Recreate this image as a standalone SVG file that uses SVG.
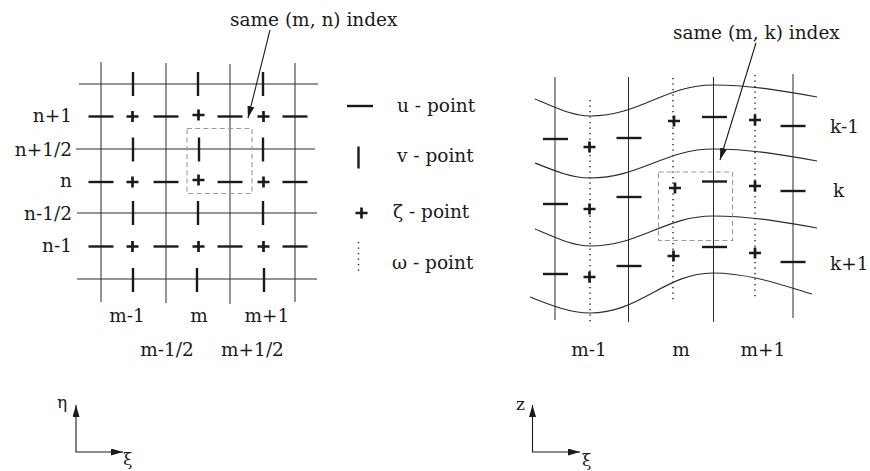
<svg xmlns="http://www.w3.org/2000/svg" width="870" height="471" viewBox="0 0 870 471">
<style>
.bg{fill:#fff}
.ln{stroke:#2a2a2a;stroke-width:1;fill:none}
.wv{stroke:#2a2a2a;stroke-width:1.1;fill:none}
.mk{stroke:#1a1a1a;stroke-width:2.4;fill:none}
.pl{stroke:#1a1a1a;stroke-width:2.7;fill:none}
.dot{stroke:#1a1a1a;stroke-width:1.4;stroke-dasharray:1.3 4.2;fill:none}
.box{stroke:#9a9a9a;stroke-width:1.1;stroke-dasharray:5 3.2;fill:none}
.ar{stroke:#1a1a1a;stroke-width:1.1;fill:none}
text{font-family:"DejaVu Serif","Liberation Serif",serif;font-size:18.5px;fill:#1a1a1a}
.s{font-size:17px}
</style>
<defs>
<path id="u" d="M-12.5,0H12.5"/>
<path id="v" d="M0,-12V12"/>
<path id="p" d="M-6,0H6M0,-5.5V5.5"/>
<marker id="ah" viewBox="0 0 12 7" refX="12" refY="3.5" markerWidth="12" markerHeight="7" markerUnits="userSpaceOnUse" orient="auto">
<path d="M0,0L12,3.5L0,7z" fill="#1a1a1a"/>
</marker>
</defs>
<rect class="bg" width="870" height="471"/>

<g id="left-grid">
<g class="ln">
<line x1="101" y1="62" x2="101" y2="302"/>
<line x1="166" y1="63" x2="166" y2="303"/>
<line x1="230" y1="64" x2="230" y2="304"/>
<line x1="295" y1="63" x2="295" y2="302"/>
<line x1="79" y1="84" x2="318" y2="84"/>
<line x1="76" y1="149" x2="315" y2="149"/>
<line x1="77" y1="213" x2="317" y2="213"/>
<line x1="77" y1="279" x2="317" y2="279"/>
</g>
<g class="mk">
<use href="#u" x="101" y="116.5"/><use href="#u" x="166" y="116.5"/><use href="#u" x="230" y="116.5"/><use href="#u" x="295" y="116.5"/>
<use href="#u" x="101" y="182"/><use href="#u" x="166" y="182"/><use href="#u" x="230" y="182"/><use href="#u" x="295" y="182"/>
<use href="#u" x="101" y="246.5"/><use href="#u" x="166" y="246.5"/><use href="#u" x="230" y="246.5"/><use href="#u" x="295" y="246.5"/>
<use href="#v" x="133" y="84"/><use href="#v" x="198" y="84"/><use href="#v" x="263" y="84"/>
<use href="#v" x="133" y="149.5"/><use href="#v" x="199" y="149.5"/><use href="#v" x="263" y="149.5"/>
<use href="#v" x="133" y="213"/><use href="#v" x="198" y="213"/><use href="#v" x="263" y="213"/>
<use href="#v" x="133" y="280"/><use href="#v" x="197" y="280"/><use href="#v" x="264" y="280"/>
</g>
<g class="pl">
<use href="#p" x="132.5" y="116.5"/><use href="#p" x="198.5" y="115"/><use href="#p" x="263.5" y="116.5"/>
<use href="#p" x="132.5" y="182"/><use href="#p" x="198.5" y="180"/><use href="#p" x="263.5" y="182"/>
<use href="#p" x="132.5" y="246.5"/><use href="#p" x="198.5" y="246.5"/><use href="#p" x="263.5" y="246.5"/>
</g>
<rect class="box" x="187" y="128.5" width="65" height="65"/>
<g text-anchor="end">
<text x="72" y="122">n+1</text>
<text x="72" y="156">n+1/2</text>
<text x="72" y="187">n</text>
<text x="72" y="220">n-1/2</text>
<text x="72" y="252">n-1</text>
</g>
<g text-anchor="middle">
<text x="127" y="322">m-1</text>
<text x="199" y="322">m</text>
<text x="267" y="322">m+1</text>
<text x="167" y="356">m-1/2</text>
<text x="252.5" y="356">m+1/2</text>
</g>
<text x="230" y="26">same (m, n) index</text>
</g>

<g id="legend">
<g class="mk">
<line x1="347" y1="106" x2="373" y2="106"/>
<line x1="358.5" y1="146.5" x2="358.5" y2="168.5"/>
</g>
<use class="pl" href="#p" x="361.5" y="213"/>
<line class="dot" x1="358.5" y1="242" x2="358.5" y2="274"/>
<text x="397" y="111.5">u - point</text>
<text x="397" y="161.5">v - point</text>
<text x="393" y="218">ζ - point</text>
<text x="392" y="269">ω - point</text>
</g>

<g id="right-grid">
<g class="ln">
<line x1="555" y1="77" x2="555" y2="320"/>
<line x1="628.5" y1="77" x2="628.5" y2="322"/>
<line x1="713.5" y1="77" x2="713.5" y2="322"/>
<line x1="793" y1="74" x2="793" y2="318"/>
</g>
<g class="dot">
<line x1="590" y1="100" x2="590" y2="323"/>
<line x1="673" y1="78" x2="673" y2="303"/>
<line x1="755" y1="75" x2="755" y2="298"/>
</g>
<g class="wv">
<path d="M535,99 C555,107 572,116 590,116 C640,116 665,85 713,85 C752,85 790,92 817,97"/>
<path d="M535,163 C555,171 572,178 590,178 C640,178 665,149 713,149 C752,149 790,156 817,161"/>
<path d="M535,229 C555,237 572,246 590,246 C640,246 665,216 713,216 C752,216 790,223 817,228"/>
<path d="M530,297 C550,305 570,313 590,313 C640,313 665,273 713,273 C752,273 790,288 812,294"/>
</g>
<g class="mk">
<use href="#u" x="555.5" y="139"/><use href="#u" x="629" y="138"/><use href="#u" x="714.5" y="117"/><use href="#u" x="793" y="126"/>
<use href="#u" x="555.5" y="204"/><use href="#u" x="629" y="197"/><use href="#u" x="714.5" y="181.5"/><use href="#u" x="793" y="191"/>
<use href="#u" x="555.5" y="274"/><use href="#u" x="629" y="266"/><use href="#u" x="714.5" y="247"/><use href="#u" x="793" y="262"/>
</g>
<g class="pl">
<use href="#p" x="589.5" y="147"/><use href="#p" x="674" y="121"/><use href="#p" x="755" y="120"/>
<use href="#p" x="589.5" y="209"/><use href="#p" x="675" y="188"/><use href="#p" x="755" y="186"/>
<use href="#p" x="589.5" y="277"/><use href="#p" x="673.5" y="256"/><use href="#p" x="755" y="253"/>
</g>
<rect class="box" x="658.5" y="172" width="74" height="68.5"/>
<text x="830" y="133">k-1</text>
<text x="833" y="197">k</text>
<text x="830" y="270">k+1</text>
<g text-anchor="middle">
<text x="589" y="356">m-1</text>
<text x="681" y="356">m</text>
<text x="763" y="356">m+1</text>
</g>
<text x="673" y="39">same (m, k) index</text>
</g>

<g id="connectors">
<line class="ar" x1="270" y1="30" x2="248" y2="118" marker-end="url(#ah)"/>
<line class="ar" x1="756" y1="43" x2="720" y2="160" marker-end="url(#ah)"/>
<line class="ar" x1="76" y1="452" x2="76" y2="405" marker-end="url(#ah)"/>
<line class="ar" x1="75.5" y1="452" x2="123" y2="452" marker-end="url(#ah)"/>
<line class="ar" x1="532.5" y1="452" x2="532.5" y2="405" marker-end="url(#ah)"/>
<line class="ar" x1="532" y1="452" x2="580" y2="452" marker-end="url(#ah)"/>
</g>

<g id="axes-labels">
<text class="s" x="57" y="408">η</text>
<text class="s" x="123" y="465">ξ</text>
<text class="s" x="516" y="410">z</text>
<text class="s" x="582" y="466">ξ</text>
</g>
</svg>
